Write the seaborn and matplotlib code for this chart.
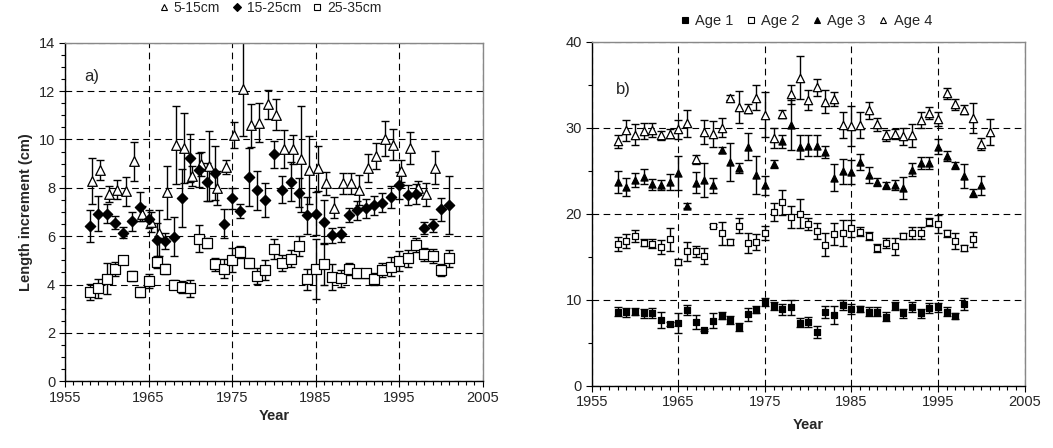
import numpy as np
import pandas as pd
import matplotlib
matplotlib.use("Agg")
import matplotlib.pyplot as plt
from matplotlib.lines import Line2D
from matplotlib.ticker import MultipleLocator, FixedLocator
import seaborn as sns

# ---------------- data: panel a (length classes) ----------------
years_tri_a = list(range(1958, 2000))
len_5_15 = [8.28, 8.73, 7.75, 7.93, 7.85, 9.10, 6.93, 6.58, 6.14, 7.82,
            9.77, 9.65, 8.49, 9.00, 8.90, 8.00, 8.86, 10.18, 12.10, 10.58,
            10.69, 11.45, 11.03, 9.61, 9.59, 9.20, 8.73, 8.80, 8.18, 7.18,
            8.18, 8.18, 7.91, 8.83, 9.31, 10.03, 9.79, 8.69, 9.65, 8.00,
            7.73, 8.83]
err_5_15 = [0.95, 0.42, 0.33, 0.38, 0.6, 0.8, 0.3, 0.4, 0.95, 1.1,
            1.6, 1.45, 0.4, 0.5, 1.45, 0.7, 0.28, 0.55, 1.95, 0.88,
            0.8, 0.6, 0.65, 0.77, 0.6, 2.2, 1.4, 0.93, 0.46, 0.43,
            0.43, 0.43, 0.62, 0.57, 0.55, 0.73, 0.64, 0.44, 0.66, 0.28,
            0.48, 0.69]

years_a = list(range(1958, 2002))
len_15_25 = [6.42, 6.93, 6.93, 6.56, 6.14, 6.61, 7.22, 6.72, 5.83, 5.79,
             5.98, 7.56, 9.24, 8.73, 8.24, 8.61, 6.52, 7.56, 7.04, 8.46,
             7.89, 7.48, 9.38, 7.93, 8.25, 7.79, 6.87, 6.93, 6.60, 6.03,
             6.07, 6.87, 7.07, 7.15, 7.27, 7.38, 7.63, 8.10, 7.69, 7.73,
             6.35, 6.45, 7.11, 7.27]
err_15_25 = [0.65, 0.72, 0.4, 0.27, 0.23, 0.38, 0.6, 0.37, 0.7, 0.33,
             0.8, 1.2, 1.0, 0.7, 0.8, 1.1, 0.6, 0.45, 0.3, 1.2,
             0.8, 0.7, 0.55, 0.55, 0.8, 0.6, 0.76, 0.9, 0.9, 0.3,
             0.3, 0.3, 0.4, 0.4, 0.38, 0.4, 0.45, 0.55, 0.42, 0.42,
             0.25, 0.28, 0.48, 1.2]
len_25_35 = [3.69, 3.84, 4.24, 4.65, 5.01, 4.35, 3.69, 4.15, 4.93, 4.63,
             4.00, 3.91, 3.84, 5.90, 5.73, 4.83, 4.65, 5.01, 5.34, 4.90,
             4.35, 4.60, 5.48, 4.90, 5.07, 5.59, 4.21, 4.65, 4.83, 4.31,
             4.26, 4.63, 4.46, 4.46, 4.21, 4.60, 4.74, 4.97, 5.08, 5.63,
             5.25, 5.18, 4.59, 5.08]
err_25_35 = [0.32, 0.4, 0.65, 0.28, 0.18, 0.2, 0.2, 0.3, 0.25, 0.2,
             0.2, 0.25, 0.35, 0.55, 0.2, 0.25, 0.4, 0.5, 0.25, 0.2,
             0.32, 0.42, 0.42, 0.32, 0.35, 0.4, 0.42, 1.25, 0.83, 0.55,
             0.35, 0.25, 0.2, 0.2, 0.25, 0.3, 0.38, 0.4, 0.36, 0.28,
             0.28, 0.31, 0.25, 0.35]

# ---------------- data: panel b (ages) ----------------
years_age1 = list(range(1958, 1999))
age1 = [8.6, 8.5, 8.6, 8.4, 8.4, 7.6, 7.15, 7.3, 8.8, 7.4,
        6.45, 7.55, 8.1, 7.6, 6.8, 8.3, 8.8, 9.75, 9.25, 8.85,
        9.1, 7.3, 7.4, 6.25, 8.5, 8.2, 9.35, 8.9, 8.9, 8.6,
        8.6, 8.0, 9.25, 8.4, 9.1, 8.4, 9.0, 9.1, 8.6, 8.1,
        9.5]
age1_err = [0.55, 0.5, 0.4, 0.5, 0.6, 0.95, 0.25, 1.15, 0.55, 0.85,
            0.15, 0.9, 0.4, 0.5, 0.45, 0.75, 0.4, 0.45, 0.5, 0.6,
            0.85, 0.55, 0.55, 0.7, 0.7, 1.05, 0.55, 0.6, 0.4, 0.5,
            0.5, 0.5, 0.5, 0.5, 0.6, 0.5, 0.55, 0.5, 0.55, 0.35,
            0.7]
years_age2 = list(range(1958, 2000))
age2 = [16.5, 16.8, 17.4, 16.6, 16.5, 16.1, 17.0, 14.4, 15.6, 15.6,
        15.1, 18.6, 17.7, 16.7, 18.6, 16.6, 16.7, 17.7, 20.2, 21.3,
        19.6, 20.0, 18.8, 18.0, 16.4, 17.6, 17.7, 18.3, 17.9, 17.4,
        16.0, 16.6, 16.2, 17.4, 17.7, 17.7, 19.0, 18.8, 17.7, 16.8,
        16.0, 17.0]
age2_err = [0.8, 0.8, 0.75, 0.4, 0.55, 0.8, 1.35, 0.35, 1.15, 0.65,
            0.95, 0.2, 1.35, 0.4, 0.9, 1.2, 0.95, 0.8, 1.05, 1.5,
            1.3, 1.65, 0.65, 0.9, 1.35, 1.3, 1.5, 1.0, 0.55, 0.45,
            0.45, 0.6, 1.0, 0.35, 0.7, 0.7, 0.5, 1.05, 0.4, 0.95,
            0.3, 0.85]
years_age3 = list(range(1958, 2001))
age3 = [23.7, 23.1, 23.9, 24.3, 23.4, 23.3, 23.7, 24.7, 20.9, 23.6,
        23.9, 23.3, 27.4, 26.0, 25.3, 27.8, 24.5, 23.3, 25.8, 28.4,
        30.3, 27.8, 27.9, 27.9, 27.2, 24.2, 24.9, 24.8, 26.0, 24.5,
        23.7, 23.3, 23.3, 23.0, 25.1, 25.9, 25.9, 27.8, 26.7, 25.6,
        24.4, 22.4, 23.3]
age3_err = [1.3, 1.0, 0.8, 0.85, 0.6, 0.6, 0.9, 2.0, 0.3, 1.2,
            2.0, 0.85, 0.3, 2.2, 0.6, 1.55, 2.2, 1.1, 0.45, 0.8,
            2.9, 1.4, 1.2, 1.2, 0.7, 1.55, 1.45, 1.4, 0.95, 0.95,
            0.5, 0.4, 0.6, 1.3, 0.75, 0.7, 0.7, 0.9, 0.55, 0.45,
            1.4, 0.45, 1.1]
years_age4 = list(range(1958, 2002))
age4 = [28.4, 29.7, 29.2, 29.6, 29.7, 29.1, 29.3, 29.8, 30.5, 26.3,
        29.5, 29.3, 30.0, 33.5, 32.4, 32.2, 33.5, 31.5, 28.8, 31.6,
        33.9, 35.8, 33.2, 34.7, 33.0, 33.3, 30.3, 30.2, 30.3, 32.0,
        30.4, 29.1, 29.3, 29.0, 29.1, 30.9, 31.7, 31.0, 34.0, 32.7,
        32.1, 31.1, 28.1, 29.5]
age4_err = [0.75, 1.2, 1.2, 0.9, 0.8, 0.55, 0.55, 1.1, 1.6, 0.5,
            1.4, 1.5, 1.1, 0.3, 1.9, 0.5, 1.5, 2.6, 1.2, 0.5,
            1.1, 2.5, 1.15, 1.0, 1.35, 0.8, 1.55, 2.3, 1.5, 1.0,
            0.75, 0.65, 0.6, 1.0, 1.35, 0.9, 0.7, 0.85, 0.65, 0.65,
            0.55, 1.75, 0.7, 1.55]

labels_a = ["5-15cm", "15-25cm", "25-35cm"]
labels_b = ["Age 1", "Age 2", "Age 3", "Age 4"]
year_ticks = [1955, 1965, 1975, 1985, 1995, 2005]

# ---------------- style ----------------
sns.set_style("ticks")
plt.rcParams["font.family"] = ["Liberation Sans", "DejaVu Sans"]
plt.rcParams["font.size"] = 10

fig = plt.figure(figsize=(10.53, 4.48), dpi=100)
ax_a = fig.add_axes([0.0617, 0.149, 0.3967, 0.7556])
ax_b = fig.add_axes([0.5619, 0.1395, 0.4112, 0.7674])


def draw(ax, x, y, e, marker, filled, s):
    ax.errorbar(x, y, yerr=e, fmt="none", ecolor="black", elinewidth=1.0,
                capsize=3.2, capthick=1.0, zorder=2)
    df = pd.DataFrame({"x": x, "y": y})
    sns.scatterplot(data=df, x="x", y="y", ax=ax, marker=marker, s=s,
                    color="black" if filled else "white",
                    edgecolor="black", linewidth=0.9, zorder=3, legend=False)


dodge = 0.25
draw(ax_a, np.array(years_tri_a) + dodge, len_5_15, err_5_15, "^", False, 48)
draw(ax_a, years_a, len_15_25, err_15_25, "D", True, 28)
draw(ax_a, years_a, len_25_35, err_25_35, "s", False, 44)

draw(ax_b, years_age1, age1, age1_err, "s", True, 22)
draw(ax_b, years_age2, age2, age2_err, "s", False, 22)
draw(ax_b, years_age3, age3, age3_err, "^", True, 26)
draw(ax_b, years_age4, age4, age4_err, "^", False, 36)


def style_axes(ax, ymax, ymajor, yminor):
    ax.set_xlim(1955, 2005)
    ax.set_ylim(0, ymax)
    ax.xaxis.set_major_locator(FixedLocator(year_ticks))
    ax.xaxis.set_minor_locator(MultipleLocator(1))
    ax.yaxis.set_major_locator(MultipleLocator(ymajor))
    ax.yaxis.set_minor_locator(MultipleLocator(yminor))
    ax.tick_params(axis="both", which="major", direction="out", length=4,
                   width=0.8, color="black", labelsize=10.5, pad=3)
    ax.tick_params(axis="both", which="minor", direction="out", length=3,
                   width=0.8, color="black")
    ax.grid(True, which="major", linestyle=(0, (6, 4)), color="black",
            linewidth=0.8)
    ax.set_axisbelow(True)
    for side in ["left", "bottom"]:
        ax.spines[side].set_color("black")
        ax.spines[side].set_linewidth(1.0)
    for side in ["top", "right"]:
        ax.spines[side].set_visible(True)
        ax.spines[side].set_color("#888888")
        ax.spines[side].set_linewidth(1.0)
    ax.set_xlabel("Year", fontweight="bold", fontsize=10.5)
    ax.set_ylabel("")


style_axes(ax_a, 14, 2, 0.5)
style_axes(ax_b, 40, 10, 5)
ax_a.set_ylabel("Length increment (cm)", fontweight="bold", fontsize=10.5)
ax_a.xaxis.labelpad = 3
ax_b.xaxis.labelpad = 6

ax_a.text(0.045, 0.9, "a)", transform=ax_a.transAxes, fontsize=12, va="center")
ax_b.text(0.055, 0.86, "b)", transform=ax_b.transAxes, fontsize=12, va="center")


def h(marker, filled, ms):
    return Line2D([], [], linestyle="none", marker=marker, markersize=ms,
                  markerfacecolor="black" if filled else "white",
                  markeredgecolor="black", markeredgewidth=0.8)


fig.legend([h("^", False, 5), h("D", True, 4), h("s", False, 5)], labels_a,
           loc="center", bbox_to_anchor=(0.2564, 0.982), ncol=3, frameon=False,
           fontsize=10, handlelength=0.8, handletextpad=0.3, columnspacing=0.8,
           borderaxespad=0)
fig.legend([h("s", True, 4), h("s", False, 4), h("^", True, 4.5), h("^", False, 5)],
           labels_b, loc="center", bbox_to_anchor=(0.765, 0.953), ncol=4,
           frameon=False, fontsize=10.5, handlelength=0.8, handletextpad=0.3,
           columnspacing=0.8, borderaxespad=0)

fig.savefig("out.png", dpi=100)
